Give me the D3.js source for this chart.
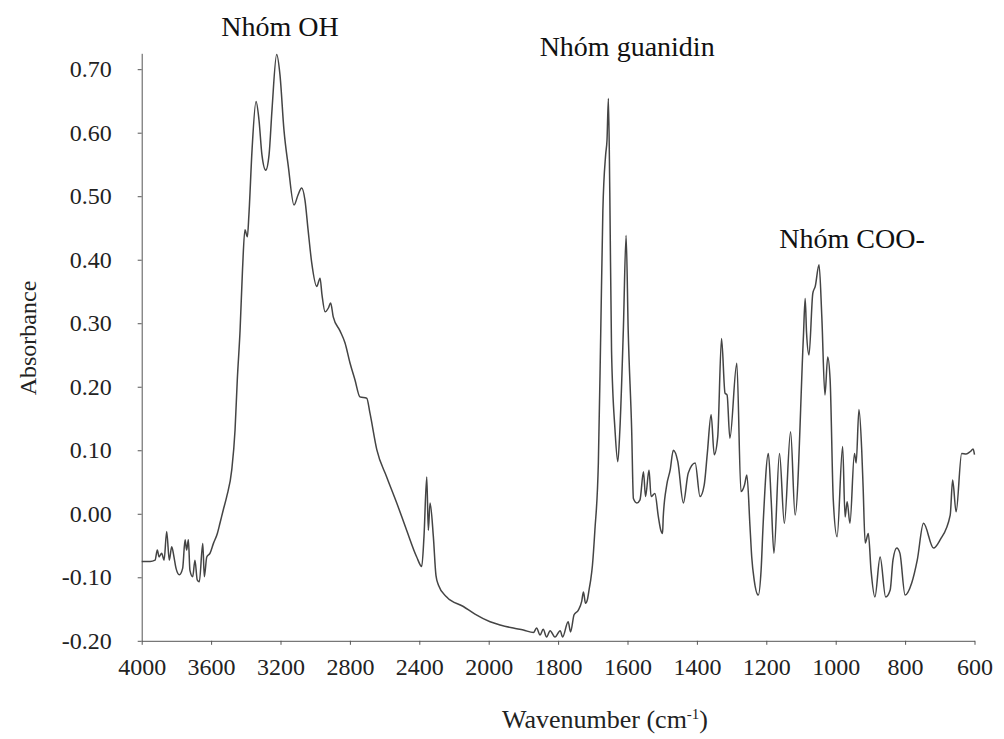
<!DOCTYPE html>
<html>
<head>
<meta charset="utf-8">
<script src="https://cdn.jsdelivr.net/npm/d3@7"></script>
<style>
    body { margin: 0; background: #fff; }
    svg { display: block; font-family: "Liberation Serif", "Times New Roman", serif; }
    .axis path, .axis line { stroke: #555; stroke-width: 1; }
</style>
</head>
<body>
<svg id="chart-ftir" width="1004" height="739"></svg>
<script>
// Spektrum: Wellenzahl in cm-1, Absorbanz
const wavenumber = [
    4000, 3952, 3923, 3910, 3900, 3885, 3871, 3856, 3841, 3827, 3814, 3802, 3783, 3764, 3750, 3741,
    3731, 3722, 3706, 3693, 3680, 3668, 3648, 3639, 3625, 3606, 3587, 3564, 3549, 3530, 3510, 3481,
    3462, 3449, 3433, 3419, 3405, 3391, 3382, 3364, 3341, 3324, 3307, 3285, 3266, 3249, 3222, 3203,
    3180, 3155, 3122, 3099, 3078, 3059, 3041, 3020, 2991, 2972, 2961, 2943, 2924, 2911, 2896, 2857,
    2828, 2799, 2771, 2742, 2703, 2684, 2645, 2588, 2530, 2473, 2415, 2386, 2373, 2357, 2348, 2338,
    2319, 2304, 2290, 2242, 2146, 2079, 1996, 1967, 1929, 1900, 1871, 1862, 1852, 1843, 1833, 1823,
    1809, 1794, 1787, 1771, 1764, 1754, 1742, 1732, 1727, 1721, 1716, 1710, 1706, 1701, 1694, 1684,
    1677, 1671, 1663, 1659, 1655, 1651, 1646, 1636, 1628, 1622, 1612, 1604, 1598, 1588, 1583, 1573,
    1564, 1554, 1548, 1538, 1532, 1521, 1511, 1504, 1499, 1497, 1487, 1477, 1468, 1455, 1439, 1425,
    1405, 1391, 1379, 1370, 1359, 1350, 1340, 1329, 1319, 1313, 1305, 1285, 1273, 1263, 1256, 1247,
    1242, 1235, 1223, 1215, 1209, 1194, 1186, 1178, 1162, 1148, 1130, 1117, 1093, 1088, 1084, 1077,
    1066, 1059, 1048, 1040, 1031, 1023, 1016, 1007, 996, 980, 973, 967, 959, 946, 941, 933,
    925, 921, 915, 906, 898, 887, 872, 856, 843, 835, 824, 815, 800, 781, 765, 747,
    718, 699, 670, 663, 653, 637, 624, 612, 604, 600
];
const absorbance = [
    -0.075, -0.075, -0.073, -0.057, -0.068, -0.062, -0.073, -0.028, -0.073, -0.052, -0.068, -0.086, -0.096, -0.086, -0.041, -0.057,
    -0.041, -0.089, -0.099, -0.073, -0.104, -0.107, -0.047, -0.099, -0.068, -0.062, -0.047, -0.031, -0.015, 0.006, 0.027, 0.069,
    0.132, 0.211, 0.289, 0.384, 0.447, 0.436, 0.471, 0.573, 0.649, 0.620, 0.565, 0.541, 0.565, 0.636, 0.723, 0.691,
    0.604, 0.547, 0.486, 0.502, 0.513, 0.494, 0.447, 0.395, 0.358, 0.371, 0.345, 0.318, 0.324, 0.332, 0.310, 0.288,
    0.269, 0.237, 0.211, 0.184, 0.182, 0.158, 0.101, 0.058, 0.017, -0.026, -0.068, -0.083, -0.036, 0.058, -0.026, 0.017,
    -0.036, -0.097, -0.112, -0.131, -0.146, -0.158, -0.170, -0.175, -0.180, -0.183, -0.187, -0.180, -0.191, -0.182, -0.194, -0.184,
    -0.194, -0.184, -0.194, -0.170, -0.186, -0.159, -0.152, -0.138, -0.123, -0.141, -0.136, -0.117, -0.104, -0.081, -0.026, 0.080,
    0.289, 0.477, 0.565, 0.589, 0.654, 0.505, 0.257, 0.132, 0.082, 0.132, 0.289, 0.438, 0.289, 0.132, 0.024, 0.017,
    0.022, 0.066, 0.027, 0.069, 0.027, 0.032, -0.005, -0.026, -0.031, -0.005, 0.045, 0.069, 0.100, 0.082, 0.017, 0.064,
    0.080, 0.027, 0.045, 0.095, 0.156, 0.093, 0.121, 0.276, 0.190, 0.187, 0.119, 0.237, 0.035, 0.045, 0.061, -0.020,
    -0.068, -0.104, -0.128, -0.089, -0.015, 0.095, 0.022, -0.062, 0.095, -0.015, 0.129, -0.002, 0.280, 0.339, 0.285, 0.250,
    0.347, 0.358, 0.392, 0.310, 0.187, 0.247, 0.210, 0.022, -0.036, 0.106, -0.005, 0.019, -0.015, 0.095, 0.080, 0.164,
    0.100, 0.042, -0.046, -0.031, -0.090, -0.131, -0.068, -0.131, -0.120, -0.073, -0.054, -0.062, -0.128, -0.109, -0.073, -0.015,
    -0.054, -0.041, -0.002, 0.053, 0.003, 0.095, 0.094, 0.098, 0.102, 0.093
];

// Achsenbeschriftung
const xTicks = [4000, 3600, 3200, 2800, 2400, 2000, 1800, 1600, 1400, 1200, 1000, 800, 600];
const yTicks = [0.70, 0.60, 0.50, 0.40, 0.30, 0.20, 0.10, 0.00, -0.10, -0.20];

// Bandenzuordnung
const bandLabels = ['Nhóm OH', 'Nhóm guanidin', 'Nhóm COO-'];
const bandWavenumber = [3203, 1601, 953];
const bandAbsorbance = [0.752, 0.721, 0.419];

const serif = '"Liberation Serif", "Times New Roman", serif';

function drawSpectrum() {
    const svg = d3.select('#chart-ftir');

    // Skalen: Massstabswechsel bei 2000 cm-1 (wie im Spektrometer-Ausdruck)
    const xScale = d3.scaleLinear()
        .domain([4000, 2000, 600])
        .range([141.7, 488.7, 974.5]);

    const yScale = d3.scaleLinear()
        .domain([-0.2, 0.725])
        .range([640.8, 53.3]);

    const data = wavenumber.map((w, i) => ({ w: w, a: absorbance[i] }));

    // X-Achse
    const xAxis = svg.append('g')
        .attr('class', 'axis x-axis')
        .attr('transform', `translate(0,${yScale(-0.2)})`)
        .call(d3.axisBottom(xScale)
            .tickValues(xTicks)
            .tickSizeInner(4)
            .tickSizeOuter(0)
            .tickPadding(13)
            .tickFormat(d => String(d)));

    // Y-Achse
    const yAxis = svg.append('g')
        .attr('class', 'axis y-axis')
        .attr('transform', `translate(${xScale(4000)},0)`)
        .call(d3.axisLeft(yScale)
            .tickValues(yTicks)
            .tickSizeInner(4)
            .tickSizeOuter(0)
            .tickPadding(26)
            .tickFormat(d => d.toFixed(2)));

    // d3 setzt sans-serif am <g>, hier ueberschreiben
    [xAxis, yAxis].forEach(ax => {
        ax.attr('font-family', serif).attr('font-size', 24);
        ax.selectAll('text')
            .style('font-family', serif)
            .style('font-size', '24px')
            .style('fill', '#222');
    });

    // Spektrum
    const line = d3.line()
        .x(d => xScale(d.w))
        .y(d => yScale(d.a))
        .curve(d3.curveMonotoneX);

    svg.append('path')
        .datum(data)
        .attr('fill', 'none')
        .attr('stroke', '#444')
        .attr('stroke-width', 1.5)
        .attr('stroke-linejoin', 'round')
        .attr('d', line);

    // Bandenbeschriftung
    svg.selectAll('.band-label')
        .data(bandLabels)
        .enter()
        .append('text')
        .attr('class', 'band-label')
        .attr('x', (d, i) => xScale(bandWavenumber[i]))
        .attr('y', (d, i) => yScale(bandAbsorbance[i]))
        .attr('text-anchor', 'middle')
        .style('font-size', '28px')
        .style('fill', '#111')
        .text(d => d);

    // Achsentitel
    svg.append('text')
        .attr('transform', 'translate(36,338) rotate(-90)')
        .attr('text-anchor', 'middle')
        .style('font-size', '24px')
        .style('fill', '#222')
        .text('Absorbance');

    const xTitle = svg.append('text')
        .attr('x', 605)
        .attr('y', 728)
        .attr('text-anchor', 'middle')
        .style('font-size', '26px')
        .style('fill', '#222');
    xTitle.append('tspan').text('Wavenumber (cm');
    xTitle.append('tspan').attr('dy', -9).style('font-size', '15px').text('-1');
    xTitle.append('tspan').attr('dy', 9).text(')');
}

drawSpectrum();
</script>
</body>
</html>
